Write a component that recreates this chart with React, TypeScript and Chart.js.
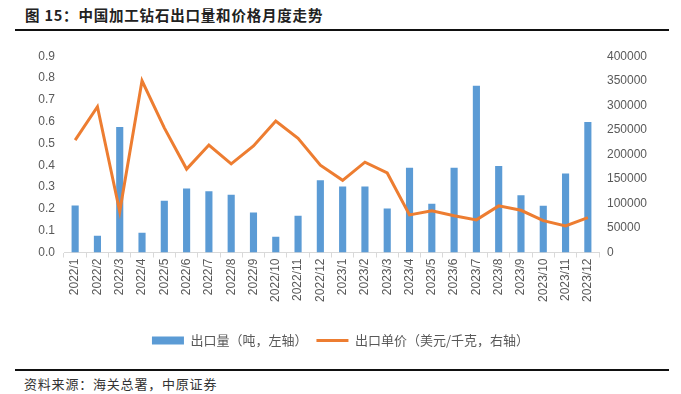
import React, { useEffect, useRef } from "react";
import { Chart, registerables } from "chart.js";

Chart.register(...registerables);

const categories = [
  "2022/1", "2022/2", "2022/3", "2022/4", "2022/5", "2022/6",
  "2022/7", "2022/8", "2022/9", "2022/10", "2022/11", "2022/12",
  "2023/1", "2023/2", "2023/3", "2023/4", "2023/5", "2023/6",
  "2023/7", "2023/8", "2023/9", "2023/10", "2023/11", "2023/12",
];

const exportVolume = [
  0.215, 0.077, 0.575, 0.09, 0.237, 0.294, 0.281, 0.265, 0.183, 0.072, 0.169, 0.331,
  0.303, 0.303, 0.202, 0.388, 0.223, 0.388, 0.765, 0.397, 0.263, 0.214, 0.362, 0.598,
];

const unitPrice = [
  229000, 297000, 83500, 350000, 254000, 170000, 219000, 180500, 217000, 268000, 232600, 178000,
  147000, 184000, 162000, 76700, 85000, 75000, 66500, 95000, 86000, 65000, 54000, 71000,
];

const seriesNames = ["出口量（吨，左轴）", "出口单价（美元/千克，右轴）"];
const titleText = "图 15：中国加工钻石出口量和价格月度走势";
const sourceText = "资料来源：海关总署，中原证券";

const BLUE = "#5B9BD5";
const ORANGE = "#ED7D31";
const GREY = "#595959";
const CJK = "'Noto Sans CJK SC', sans-serif";

export default function App() {
  const canvasRef = useRef<HTMLCanvasElement | null>(null);

  useEffect(() => {
    const canvas = canvasRef.current;
    if (!canvas) return;
    const chart = new Chart(canvas, {
      type: "bar",
      data: {
        labels: categories,
        datasets: [
          {
            type: "line",
            label: seriesNames[1],
            data: unitPrice,
            yAxisID: "yR",
            borderColor: ORANGE,
            backgroundColor: ORANGE,
            borderWidth: 3,
            pointRadius: 0,
            tension: 0,
            order: 0,
          } as any,
          {
            type: "bar",
            label: seriesNames[0],
            data: exportVolume,
            yAxisID: "yL",
            backgroundColor: BLUE,
            categoryPercentage: 1,
            barPercentage: 0.32,
            order: 1,
          } as any,
        ],
      },
      options: {
        responsive: false,
        maintainAspectRatio: false,
        animation: false,
        layout: { padding: { top: 16, left: 0, right: 0, bottom: 3 } },
        plugins: {
          tooltip: { enabled: false },
          legend: {
            position: "bottom",
            labels: {
              usePointStyle: true,
              pointStyleWidth: 32,
              boxHeight: 8,
              padding: 9,
              color: GREY,
              font: { family: CJK, size: 13 },
              generateLabels: () => [
                {
                  text: seriesNames[0],
                  fillStyle: BLUE,
                  strokeStyle: BLUE,
                  lineWidth: 0,
                  pointStyle: "rect",
                  hidden: false,
                  datasetIndex: 1,
                  fontColor: GREY,
                } as any,
                {
                  text: seriesNames[1],
                  fillStyle: ORANGE,
                  strokeStyle: ORANGE,
                  lineWidth: 3,
                  pointStyle: "line",
                  hidden: false,
                  datasetIndex: 0,
                  fontColor: GREY,
                } as any,
              ],
            },
          },
        },
        scales: {
          x: {
            grid: {
              display: true,
              drawOnChartArea: false,
              drawTicks: true,
              tickLength: 5,
              color: "#D9D9D9",
              offset: true,
            },
            border: { display: true, color: "#D9D9D9", width: 1 },
            ticks: {
              minRotation: 90,
              maxRotation: 90,
              autoSkip: false,
              padding: 1,
              color: GREY,
              font: { family: "'Liberation Sans', Arial, sans-serif", size: 12 },
            },
            afterFit: (s: any) => {
              s.height = 72.5;
            },
          },
          yL: {
            position: "left",
            min: 0,
            max: 0.9,
            grid: { display: false, drawTicks: false },
            border: { display: false },
            ticks: {
              stepSize: 0.1,
              padding: 9,
              color: GREY,
              font: { family: "'Liberation Sans', Arial, sans-serif", size: 12 },
              callback: (v: any) => Number(v).toFixed(1),
            },
            afterFit: (s: any) => {
              s.width = 64;
            },
          },
          yR: {
            position: "right",
            min: 0,
            max: 400000,
            grid: { display: false, drawTicks: false },
            border: { display: false },
            ticks: {
              stepSize: 50000,
              padding: 8,
              color: GREY,
              font: { family: "'Liberation Sans', Arial, sans-serif", size: 12 },
              callback: (v: any) => String(v),
            },
            afterFit: (s: any) => {
              s.width = 82;
            },
          },
        },
      },
    });
    return () => chart.destroy();
  }, []);

  return (
    <div style={{ position: "absolute", left: 0, top: 0, width: 681, height: 394, background: "#fff", overflow: "hidden" }}>
      <div
        style={{
          position: "absolute",
          left: 25,
          top: 5,
          fontFamily: CJK,
          fontWeight: 700,
          fontSize: 14.5,
          letterSpacing: "0.8px",
          lineHeight: "20px",
          color: "#222",
          whiteSpace: "nowrap",
        }}
      >
        {titleText}
      </div>
      <div style={{ position: "absolute", left: 15, top: 29, width: 654, height: 2, background: "#111" }} />
      <canvas
        ref={canvasRef}
        width={681}
        height={320}
        style={{ position: "absolute", left: 0, top: 40, width: 681, height: 320 }}
      />
      <div style={{ position: "absolute", left: 15, top: 369, width: 654, height: 2, background: "#111" }} />
      <div
        style={{
          position: "absolute",
          left: 24,
          top: 374,
          fontFamily: CJK,
          fontSize: 13,
          letterSpacing: "0.8px",
          lineHeight: "20px",
          color: "#333",
          whiteSpace: "nowrap",
        }}
      >
        {sourceText}
      </div>
    </div>
  );
}
